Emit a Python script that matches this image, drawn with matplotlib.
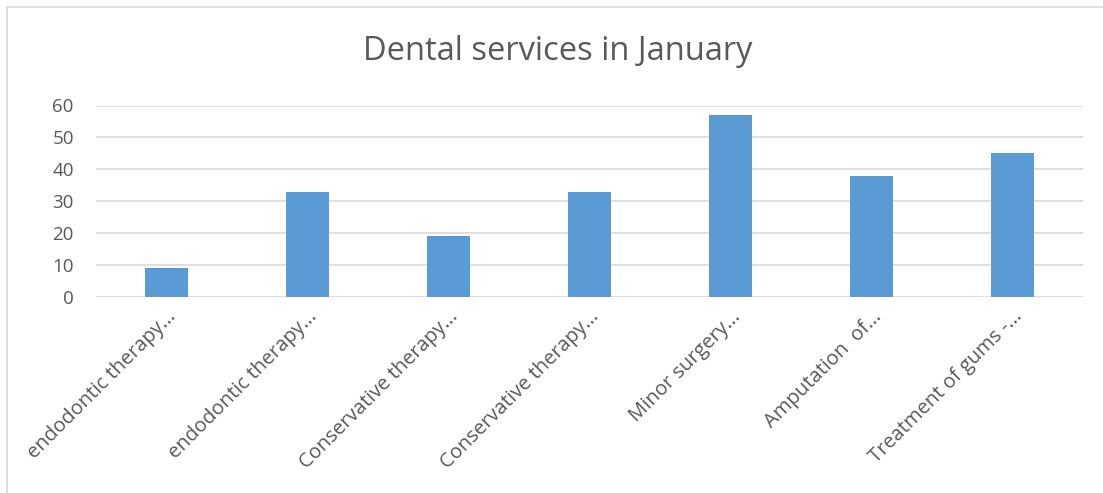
import matplotlib
matplotlib.use("Agg")
import matplotlib.pyplot as plt
import matplotlib.transforms as mtrans
from matplotlib.patches import Rectangle

categories = [
    "endodontic therapy...",
    "endodontic therapy...",
    "Conservative therapy...",
    "Conservative therapy...",
    "Minor surgery...",
    "Amputation  of...",
    "Treatment of gums -...",
]
values = [9, 33, 19, 33, 57, 38, 45]
y_ticks = [0, 10, 20, 30, 40, 50, 60]

plt.rcParams['font.family'] = ['Open Sans', 'DejaVu Sans']
text_color = "#595959"

fig = plt.figure(figsize=(11.03, 4.93), dpi=100)
W, H = 1103, 493
ax = fig.add_axes([96 / W, 1 - 297 / H, (1083 - 96) / W, (297 - 105.5) / H])

x = list(range(len(categories)))
ax.bar(x, values, width=0.31, color="#5B9BD5", zorder=3)

ax.set_xlim(-0.5, len(categories) - 0.5)
ax.set_ylim(0, 60)
ax.set_yticks(y_ticks)
ax.set_yticklabels([str(v) for v in y_ticks], fontsize=13.5, color=text_color)
ax.set_xticks(x)
ax.set_xticklabels(categories, fontsize=14.5, color=text_color, rotation=45,
                   ha="right", rotation_mode="anchor")

# nudge rotated labels a little to the right
shift = mtrans.ScaledTranslation(6 / 100, 0, fig.dpi_scale_trans)
for lbl in ax.get_xticklabels():
    lbl.set_transform(lbl.get_transform() + shift)

ax.grid(axis="y", color="#D9D9D9", linewidth=1.2, zorder=0)
ax.tick_params(axis="both", length=0)
ax.tick_params(axis="y", pad=16)
ax.tick_params(axis="x", pad=7)
for s in ax.spines.values():
    s.set_visible(False)

fig.text(558 / W, 1 - 52 / H, "Dental services in January", ha="center", va="center",
         fontsize=23.5, color=text_color)

# chart frame
fig.patches.append(Rectangle((6.5 / W, -0.1), 1.2, 1 - 7 / H + 0.1, transform=fig.transFigure,
                             fill=False, edgecolor="#D9D9D9", linewidth=1.2))

fig.savefig("out.png", dpi=100)
